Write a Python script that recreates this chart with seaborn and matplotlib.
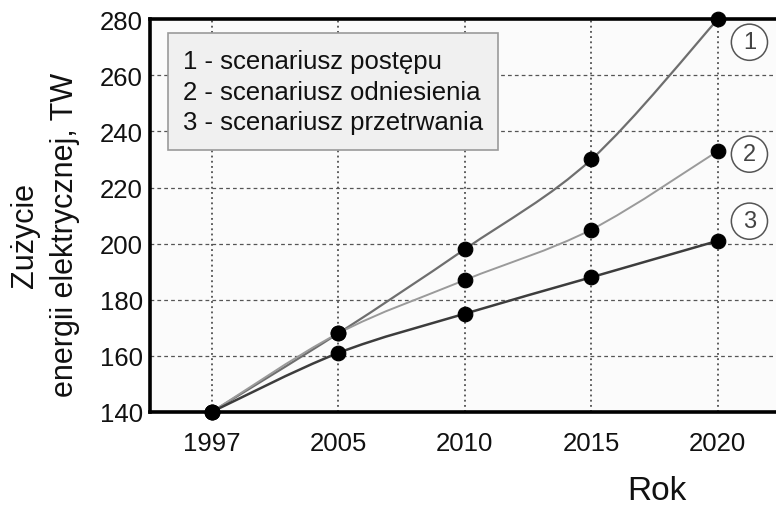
import matplotlib
matplotlib.use("Agg")
import matplotlib.pyplot as plt
from matplotlib.path import Path
from matplotlib.patches import PathPatch
import numpy as np
import pandas as pd
import seaborn as sns

# data
years = ["1997", "2005", "2010", "2015", "2020"]
postep = [140, 168, 198, 230, 280]
odniesienie = [140, 168, 187, 205, 233]
przetrwanie = [140, 161, 175, 188, 201]
labels = ["1 - scenariusz postępu", "2 - scenariusz odniesienia", "3 - scenariusz przetrwania"]
yticks = [140, 160, 180, 200, 220, 240, 260, 280]

sns.set_theme(style="white")
plt.rcParams["font.family"] = ["Liberation Sans", "DejaVu Sans"]

df = pd.DataFrame({"rok": years, "s1": postep, "s2": odniesienie, "s3": przetrwanie})
long = df.melt(id_vars="rok", var_name="scenariusz", value_name="TW")
long["x"] = long["rok"].map({y: i for i, y in enumerate(years)})

fig = plt.figure(figsize=(7.76, 5.06), dpi=100)
ax = fig.add_axes([0.193, 0.184, 0.807, 0.776])
ax.set_facecolor("#fbfbfb")


def smooth_path(xs, ys):
    # Catmull-Rom curve through the points, drawn as cubic Bezier segments
    pts = np.column_stack([xs, ys]).astype(float)
    ext = np.vstack([pts[0], pts, pts[-1]])
    verts = [pts[0]]
    codes = [Path.MOVETO]
    for i in range(len(pts) - 1):
        p0, p1, p2, p3 = ext[i], ext[i + 1], ext[i + 2], ext[i + 3]
        verts += [p1 + (p2 - p0) / 6, p2 - (p3 - p1) / 6, p2]
        codes += [Path.CURVE4] * 3
    return Path(verts, codes)


line_colors = {"s1": "#6e6e6e", "s2": "#9a9a9a", "s3": "#3c3c3c"}
line_widths = {"s1": 1.6, "s2": 1.4, "s3": 1.8}
for key in ["s1", "s2", "s3"]:
    sub = long[long["scenariusz"] == key]
    patch = PathPatch(smooth_path(sub["x"], sub["TW"]), facecolor="none",
                      edgecolor=line_colors[key], lw=line_widths[key], zorder=3)
    ax.add_patch(patch)

sns.scatterplot(data=long, x="x", y="TW", color="black", s=110, edgecolor="black",
                legend=False, ax=ax, zorder=4, clip_on=False)

ax.set_xlim(-0.49, 4.46)
ax.set_ylim(140, 280)
ax.set_xticks(range(len(years)))
ax.set_xticklabels(years)
ax.set_yticks(yticks)
ax.tick_params(axis="both", labelsize=18.5, length=0, colors="#111111")
ax.tick_params(axis="x", pad=14)
ax.tick_params(axis="y", pad=5)

for x in range(len(years)):
    ax.axvline(x, color="#333333", ls=(0, (1.2, 2.2)), lw=1.1, zorder=1)
for y in yticks[1:-1]:
    ax.axhline(y, color="#555555", ls=(0, (3, 2.5)), lw=0.9, zorder=1)

for side in ["left", "bottom", "top"]:
    ax.spines[side].set_linewidth(2.6)
    ax.spines[side].set_color("black")
ax.spines["right"].set_visible(False)

ax.set_xlabel("")
ax.set_ylabel("")
fig.text(0.058, 0.535, "Zużycie\nenergii elektrycznej, TW", rotation=90, ha="center",
         va="center", fontsize=22, linespacing=1.45, color="#111111")
fig.text(0.847, 0.028, "Rok", ha="center", va="center", fontsize=24, color="#111111")

ax.text(0.053, 0.925, "\n".join(labels), transform=ax.transAxes, ha="left", va="top",
        fontsize=18.5, linespacing=1.36, color="#111111", zorder=5,
        bbox=dict(boxstyle="square,pad=0.6", facecolor="#f0f0f0", edgecolor="#9a9a9a", lw=1.2))

for num, (xv, yv) in zip(["1", "2", "3"], [(4.25, 271.8), (4.25, 231.9), (4.25, 208.0)]):
    ax.text(xv, yv, num, ha="center", va="center", fontsize=17, color="#444444", zorder=5,
            bbox=dict(boxstyle="circle,pad=0.3", facecolor="white", edgecolor="#555555", lw=1.1))

fig.savefig("out.png", dpi=100)
